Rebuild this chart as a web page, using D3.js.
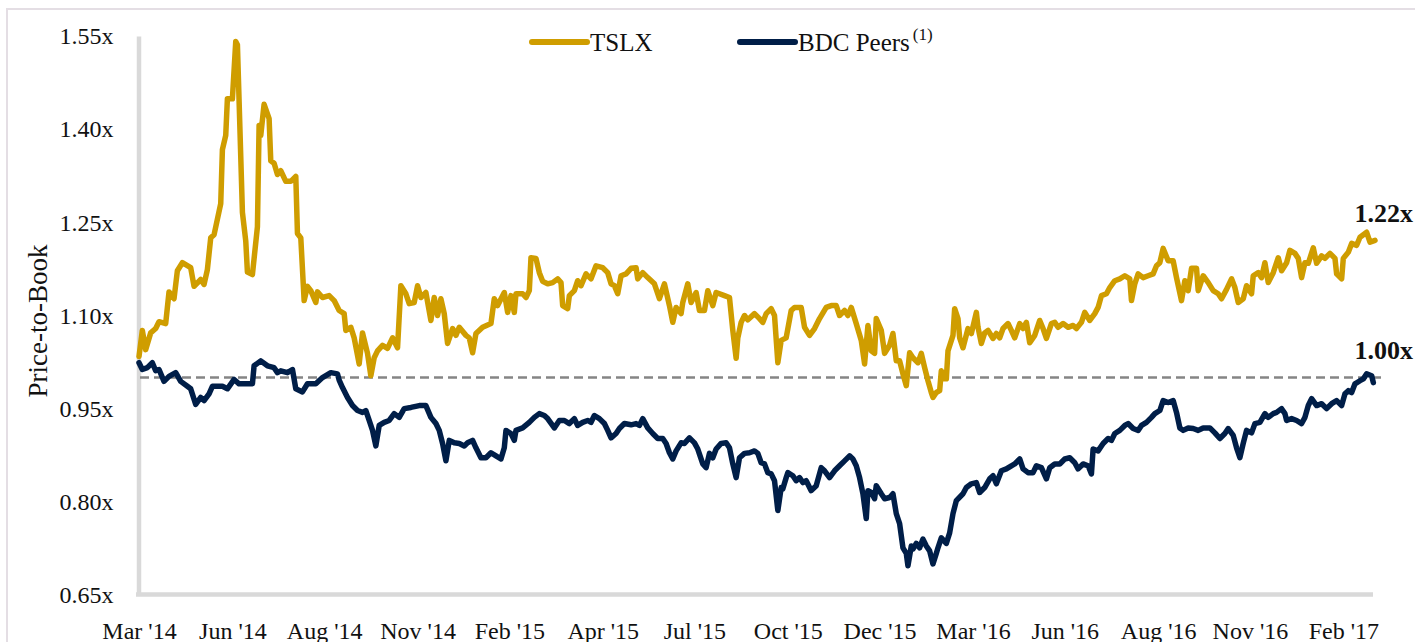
<!DOCTYPE html>
<html><head><meta charset="utf-8">
<script src="https://cdn.jsdelivr.net/npm/d3@7"></script>
<style>
body{margin:0;background:#fff}
svg{display:block}
text{font-family:"Palatino Linotype","Book Antiqua",Palatino,"Liberation Serif",serif;fill:#111}
</style>
</head><body>
<svg id="chart" width="1415" height="642"></svg>
<script>
// ---- data ----
const seriesNames = ["TSLX", "BDC Peers"];
const seriesColors = ["#CF9D00", "#001E48"];
const xTickLabels = ["Mar '14","Jun '14","Aug '14","Nov '14","Feb '15","Apr '15","Jul '15","Oct '15","Dec '15","Mar '16","Jun '16","Aug '16","Nov '16","Feb '17"];
const xTickDays = [0,56,111,167,222,278,333,389,444,500,555,611,666,722];
const lastDay = 741;
const yTicks = [0.65,0.80,0.95,1.10,1.25,1.40,1.55];
const refLevel = 1.00;
const endLabels = [1.22, 1.00];

// trading-day index, price-to-book
const tslx = [
[0,1.034],[2,1.076],[4,1.045],[7,1.072],[10,1.079],[12,1.09],[16,1.087],[18,1.138],[21,1.127],[23,1.172],
[26,1.185],[31,1.177],[33,1.147],[37,1.158],[39,1.15],[41,1.174],[43,1.225],[45,1.23],[49,1.28],[50,1.367],
[52,1.39],[53,1.449],[56,1.449],[58,1.541],[59,1.536],[62,1.266],[64,1.22],[65,1.17],[68,1.166],[71,1.243],
[72,1.406],[73,1.39],[75,1.44],[78,1.417],[79,1.349],[81,1.345],[83,1.327],[85,1.333],[88,1.316],[91,1.316],
[94,1.324],[95,1.232],[97,1.225],[99,1.124],[101,1.147],[103,1.14],[106,1.121],[107,1.138],[110,1.129],[114,1.132],
[117,1.124],[120,1.108],[123,1.103],[124,1.076],[127,1.081],[129,1.064],[132,1.022],[134,1.072],[137,1.039],[139,1.003],
[141,1.032],[143,1.043],[146,1.052],[149,1.047],[152,1.064],[155,1.048],[157,1.148],[160,1.135],[162,1.119],[165,1.121],
[167,1.148],[169,1.129],[172,1.137],[175,1.092],[177,1.129],[179,1.10],[181,1.127],[183,1.103],[185,1.055],[188,1.079],
[190,1.068],[192,1.081],[196,1.068],[198,1.064],[200,1.04],[202,1.071],[206,1.081],[211,1.087],[213,1.127],[215,1.116],
[219,1.137],[221,1.105],[223,1.132],[225,1.105],[226,1.135],[230,1.135],[232,1.129],[234,1.14],[235,1.193],[238,1.192],
[240,1.169],[242,1.155],[245,1.151],[248,1.153],[251,1.159],[253,1.153],[254,1.116],[257,1.111],[258,1.132],[261,1.14],
[263,1.156],[265,1.148],[268,1.167],[271,1.159],[274,1.18],[278,1.177],[281,1.169],[283,1.151],[285,1.148],[287,1.135],
[289,1.164],[292,1.167],[295,1.176],[298,1.177],[299,1.159],[302,1.169],[305,1.161],[309,1.151],[312,1.127],[315,1.151],
[318,1.116],[320,1.089],[322,1.113],[325,1.103],[326,1.121],[329,1.151],[331,1.121],[334,1.137],[336,1.108],[339,1.108],
[341,1.14],[344,1.116],[346,1.137],[351,1.132],[354,1.129],[356,1.076],[358,1.031],[359,1.064],[361,1.089],[363,1.10],
[365,1.093],[369,1.103],[372,1.095],[374,1.089],[376,1.103],[379,1.111],[381,1.10],[383,1.024],[385,1.06],[388,1.064],
[391,1.108],[393,1.113],[397,1.113],[399,1.081],[402,1.068],[405,1.079],[408,1.095],[412,1.113],[415,1.116],[418,1.116],
[420,1.10],[423,1.108],[425,1.10],[427,1.113],[430,1.087],[433,1.06],[435,1.022],[437,1.084],[439,1.043],[441,1.039],
[442,1.095],[445,1.076],[447,1.039],[450,1.052],[452,1.071],[454,1.027],[456,1.027],[458,1.006],[460,0.987],[462,1.04],
[464,1.032],[467,1.024],[469,1.039],[471,1.016],[473,0.995],[475,0.976],[476,0.968],[478,0.976],[480,0.979],[481,1.011],
[482,0.998],[484,0.998],[485,1.043],[488,1.068],[489,1.111],[491,1.095],[492,1.064],[494,1.048],[497,1.079],[499,1.071],
[502,1.105],[503,1.081],[505,1.055],[507,1.072],[509,1.076],[512,1.063],[514,1.071],[516,1.064],[518,1.079],[521,1.087],
[523,1.076],[525,1.064],[528,1.087],[530,1.079],[532,1.089],[534,1.056],[537,1.068],[540,1.092],[542,1.079],[544,1.063],
[547,1.087],[549,1.089],[551,1.081],[554,1.087],[557,1.081],[560,1.084],[562,1.079],[565,1.089],[567,1.105],[570,1.092],
[573,1.103],[575,1.113],[577,1.132],[580,1.135],[582,1.145],[585,1.156],[588,1.159],[591,1.164],[594,1.159],[595,1.124],
[597,1.151],[599,1.167],[602,1.161],[605,1.164],[608,1.167],[610,1.18],[612,1.185],[614,1.208],[617,1.188],[620,1.188],
[622,1.161],[625,1.124],[627,1.156],[629,1.14],[631,1.176],[634,1.176],[635,1.14],[638,1.164],[641,1.153],[644,1.14],
[647,1.135],[649,1.127],[652,1.142],[655,1.159],[657,1.145],[659,1.121],[662,1.127],[664,1.148],[667,1.135],[668,1.164],
[671,1.169],[673,1.161],[675,1.185],[677,1.153],[680,1.169],[683,1.193],[685,1.172],[688,1.185],[690,1.205],[693,1.2],
[695,1.192],[697,1.161],[699,1.185],[701,1.184],[704,1.209],[706,1.184],[709,1.196],[711,1.192],[714,1.2],[717,1.192],
[718,1.167],[721,1.159],[722,1.192],[725,1.202],[727,1.216],[730,1.213],[732,1.226],[735,1.232],[736,1.234],[738,1.218],
[741,1.221]
];

const bdcPeers = [
[0,1.024],[2,1.013],[5,1.016],[8,1.024],[10,1.011],[12,1.013],[15,0.994],[18,1.002],[22,1.008],[25,0.994],
[29,0.986],[31,0.982],[34,0.957],[37,0.968],[39,0.963],[42,0.974],[44,0.986],[50,0.986],[53,0.982],[57,0.997],
[60,0.99],[64,0.99],[68,0.99],[69,1.019],[73,1.027],[77,1.019],[81,1.016],[83,1.008],[85,1.011],[89,1.008],
[92,1.013],[94,0.982],[98,0.977],[101,0.99],[106,0.99],[110,1.0],[115,1.008],[119,1.006],[120,0.996],[122,0.984],
[125,0.968],[128,0.955],[131,0.947],[134,0.944],[136,0.947],[138,0.931],[140,0.915],[142,0.89],[144,0.923],[147,0.928],
[150,0.931],[153,0.942],[156,0.936],[159,0.95],[163,0.952],[168,0.955],[172,0.955],[175,0.936],[178,0.926],[180,0.915],
[182,0.894],[184,0.866],[186,0.899],[189,0.895],[192,0.894],[195,0.89],[197,0.895],[200,0.899],[202,0.887],[205,0.871],
[208,0.871],[211,0.879],[214,0.874],[217,0.869],[219,0.887],[220,0.915],[223,0.91],[225,0.899],[226,0.915],[230,0.919],
[234,0.928],[237,0.936],[240,0.942],[243,0.939],[245,0.934],[249,0.919],[252,0.931],[255,0.931],[258,0.926],[261,0.934],
[263,0.923],[266,0.928],[269,0.931],[271,0.928],[273,0.939],[276,0.934],[279,0.926],[281,0.915],[283,0.903],[286,0.91],
[288,0.918],[291,0.926],[295,0.924],[298,0.926],[300,0.923],[302,0.934],[305,0.919],[308,0.91],[311,0.902],[314,0.902],
[316,0.894],[318,0.879],[320,0.869],[322,0.882],[325,0.895],[327,0.894],[330,0.903],[333,0.895],[335,0.885],[338,0.861],
[340,0.855],[342,0.878],[344,0.871],[346,0.885],[349,0.894],[352,0.895],[354,0.887],[356,0.861],[358,0.839],[360,0.871],
[363,0.878],[366,0.879],[369,0.882],[371,0.878],[373,0.863],[375,0.861],[377,0.847],[379,0.845],[381,0.834],[383,0.786],
[385,0.823],[386,0.821],[388,0.839],[389,0.847],[392,0.842],[394,0.834],[396,0.839],[398,0.831],[400,0.834],[403,0.818],
[406,0.826],[409,0.855],[411,0.85],[414,0.839],[417,0.85],[420,0.858],[423,0.866],[426,0.874],[428,0.869],[430,0.858],
[432,0.839],[434,0.813],[436,0.773],[437,0.818],[439,0.815],[441,0.805],[442,0.826],[445,0.813],[447,0.805],[450,0.807],
[452,0.813],[454,0.781],[456,0.765],[458,0.726],[460,0.717],[461,0.697],[463,0.729],[464,0.724],[466,0.733],[468,0.726],
[470,0.74],[472,0.729],[474,0.721],[476,0.70],[478,0.717],[479,0.726],[481,0.742],[484,0.733],[486,0.75],[488,0.781],
[490,0.802],[494,0.813],[496,0.823],[499,0.829],[502,0.831],[504,0.815],[507,0.823],[510,0.837],[512,0.842],[514,0.829],
[517,0.85],[520,0.853],[523,0.858],[525,0.861],[528,0.869],[530,0.853],[533,0.847],[536,0.847],[538,0.858],[541,0.855],
[544,0.837],[546,0.855],[549,0.861],[552,0.861],[555,0.869],[558,0.871],[561,0.863],[563,0.853],[566,0.861],[569,0.858],
[571,0.845],[572,0.885],[575,0.882],[578,0.894],[581,0.902],[583,0.899],[585,0.91],[588,0.915],[591,0.923],[593,0.926],
[596,0.918],[599,0.915],[601,0.923],[604,0.928],[607,0.936],[609,0.942],[612,0.947],[614,0.963],[617,0.96],[620,0.963],
[622,0.944],[624,0.919],[626,0.915],[629,0.919],[632,0.918],[635,0.915],[638,0.919],[642,0.919],[645,0.911],[648,0.902],
[651,0.91],[653,0.918],[656,0.907],[658,0.887],[660,0.871],[662,0.894],[664,0.915],[667,0.911],[669,0.926],[672,0.928],
[675,0.942],[677,0.936],[680,0.942],[682,0.944],[685,0.95],[687,0.942],[688,0.931],[691,0.934],[694,0.931],[697,0.926],
[699,0.936],[701,0.955],[703,0.966],[706,0.955],[709,0.958],[712,0.95],[715,0.958],[718,0.963],[721,0.955],[723,0.974],
[725,0.979],[727,0.976],[729,0.99],[732,0.995],[734,0.998],[736,1.006],[739,1.003],[740,0.992]
];

// ---- drawing ----
const FONT = '"Palatino Linotype","Book Antiqua",Palatino,"Liberation Serif",serif';
const svg = d3.select("#chart");
const x = d3.scaleLinear().domain([0, lastDay]).range([139, 1375]);
const y = d3.scaleLinear().domain([0.65, 1.55]).range([595, 36]);

// outer frame (top & left edge)
svg.append("path").attr("d", "M7,642 L7,9 L1415,9")
  .attr("fill", "none").attr("stroke", "#e4dee4").attr("stroke-width", 2);

const axisColor = "#d9d9d9";

// y axis
const gy = svg.append("g").attr("transform", "translate(138.5,0)")
  .call(d3.axisLeft(y).tickValues(yTicks).tickSize(0).tickSizeOuter(0).tickPadding(25)
    .tickFormat(d => d3.format(".2f")(d) + "x"));
gy.select(".domain").attr("stroke", axisColor).attr("stroke-width", 4.5);
gy.selectAll("text").attr("font-size", 24).attr("fill", "#111").attr("font-family", FONT);

// x axis
const gx = svg.append("g").attr("transform", "translate(0,594.5)")
  .call(d3.axisBottom(x).tickValues(xTickDays).tickSize(0).tickSizeOuter(0)
    .tickFormat((d, i) => xTickLabels[i]));
gx.select(".domain").attr("stroke", axisColor).attr("stroke-width", 4.5)
  .attr("d", `M${x(0) - 3},0H${x(lastDay) - 2}`);
gx.selectAll("text").attr("font-size", 24).attr("fill", "#111").attr("y", 44).attr("dy", 0)
  .attr("font-family", FONT);

// y axis title
svg.append("text").attr("transform", "translate(47,321) rotate(-90)")
  .attr("text-anchor", "middle").attr("font-size", 27).text("Price-to-Book");

// reference dashed line at 1.00x
svg.append("line")
  .attr("x1", x(0) + 1).attr("x2", x(lastDay) + 6)
  .attr("y1", y(refLevel)).attr("y2", y(refLevel))
  .attr("stroke", "#858585").attr("stroke-width", 2.5).attr("stroke-dasharray", "9,5");

// lines
const line = d3.line().x(d => x(d[0])).y(d => y(d[1])).curve(d3.curveLinear);
[tslx, bdcPeers].forEach((s, i) => {
  svg.append("path").datum(s).attr("d", line)
    .attr("fill", "none").attr("stroke", seriesColors[i])
    .attr("stroke-width", 5.5).attr("stroke-linejoin", "round").attr("stroke-linecap", "round");
});

// end labels
endLabels.forEach(v => {
  svg.append("text").attr("x", 1413).attr("y", y(v) - 19)
    .attr("text-anchor", "end").attr("font-size", 26).attr("font-weight", "bold")
    .text(d3.format(".2f")(v) + "x");
});

// legend
const legendX = [532, 740];
seriesNames.forEach((n, i) => {
  const g = svg.append("g").attr("transform", `translate(${legendX[i]},42)`);
  g.append("line").attr("x1", 0).attr("x2", 55).attr("y1", 0).attr("y2", 0)
    .attr("stroke", seriesColors[i]).attr("stroke-width", 6).attr("stroke-linecap", "round");
  const t = g.append("text").attr("x", 58).attr("y", 9).attr("font-size", 25).text(n);
  if (i === 1) {
    t.append("tspan").attr("dx", 3).attr("dy", -11).attr("font-size", 17).text("(1)");
  }
});
</script>
</body></html>
